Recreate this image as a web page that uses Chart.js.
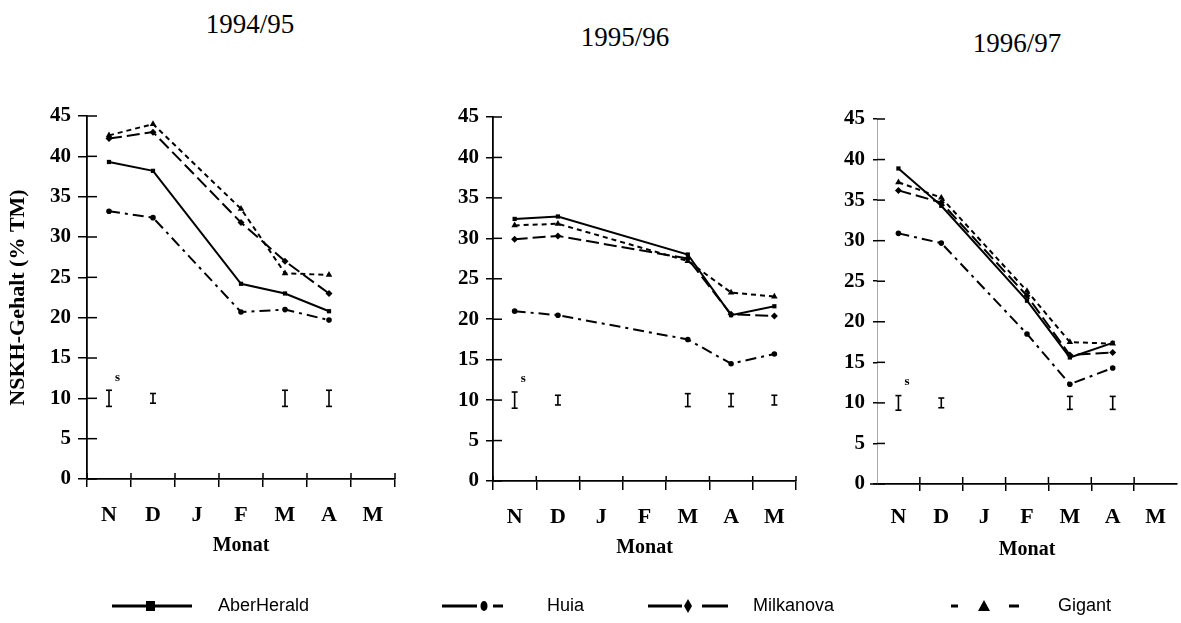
<!DOCTYPE html>
<html><head><meta charset="utf-8">
<script src="https://cdn.jsdelivr.net/npm/chart.js@4.4.1/dist/chart.umd.min.js"></script>
<style>
body{margin:0;background:#fff;width:1181px;height:623px;overflow:hidden;position:relative;}
.t{position:absolute;font:27px 'Liberation Serif';color:#000;transform:translate(-50%,-50%);white-space:nowrap}
canvas{position:absolute}
.lg{position:absolute;font:18px 'Liberation Sans';color:#000;transform:translateY(-50%);white-space:nowrap}
svg{position:absolute;left:0;top:0}
</style></head><body>
<div class="t" id="t0" style="left:250px;top:24px"></div>
<div class="t" id="t1" style="left:625px;top:37px"></div>
<div class="t" id="t2" style="left:1017px;top:43px"></div>
<canvas id="c0" width="410" height="490" style="left:0;top:80px"></canvas>
<canvas id="c1" width="390" height="490" style="left:420px;top:80px"></canvas>
<canvas id="c2" width="371" height="490" style="left:810px;top:80px"></canvas>
<svg width="1181" height="623">
  <line x1="112" y1="606" x2="192" y2="606" stroke="#000" stroke-width="3"/>
  <rect x="146" y="601" width="9" height="10" fill="#000"/>
  <line x1="442" y1="606" x2="477" y2="606" stroke="#000" stroke-width="3"/>
  <ellipse cx="484" cy="606" rx="3.5" ry="5" fill="#000"/>
  <line x1="493" y1="606" x2="503" y2="606" stroke="#000" stroke-width="3"/>
  <line x1="648" y1="606" x2="682" y2="606" stroke="#000" stroke-width="3"/>
  <polygon points="688,599 692,606 688,613 684,606" fill="#000"/>
  <line x1="702" y1="606" x2="728" y2="606" stroke="#000" stroke-width="3"/>
  <line x1="951" y1="606" x2="958" y2="606" stroke="#000" stroke-width="3"/>
  <polygon points="984,600 990,611 978,611" fill="#000"/>
  <line x1="1009" y1="606" x2="1019" y2="606" stroke="#000" stroke-width="3"/>
</svg>
<div class="lg" style="left:218px;top:605px">AberHerald</div>
<div class="lg" style="left:547px;top:605px">Huia</div>
<div class="lg" style="left:753px;top:605px">Milkanova</div>
<div class="lg" style="left:1058px;top:605px">Gigant</div>
<script>
// ---- data ----
const months = ['N','D','J','F','M','A','M'];
const seasons = ['1994/95','1995/96','1996/97'];
const varieties = ['AberHerald','Huia','Milkanova','Gigant'];
const yAxisTitle = 'NSKH-Gehalt (% TM)';
const xAxisTitle = 'Monat';
const lsdLabel = 's';
const lsdCenter = 10;

const aberHerald9495 = [39.3, 38.2, null, 24.2, 23.0, 20.8, null];
const huia9495       = [33.2, 32.4, null, 20.7, 21.0, 19.7, null];
const milkanova9495  = [42.2, 43.0, null, 31.8, 27.0, 23.0, null];
const gigant9495     = [42.6, 44.0, null, 33.5, 25.5, 25.3, null];

const aberHerald9596 = [32.4, 32.7, null, null, 28.0, 20.5, 21.6];
const huia9596       = [21.0, 20.5, null, null, 17.5, 14.5, 15.7];
const milkanova9596  = [29.9, 30.3, null, null, 27.5, 20.6, 20.4];
const gigant9596     = [31.6, 31.8, null, null, 27.2, 23.3, 22.8];

const aberHerald9697 = [38.9, 34.3, null, 22.6, 15.6, 17.4, null];
const huia9697       = [30.9, 29.7, null, 18.5, 12.3, 14.3, null];
const milkanova9697  = [36.2, 34.7, null, 23.2, 15.9, 16.2, null];
const gigant9697     = [37.2, 35.3, null, 23.8, 17.5, 17.3, null];

const lsd9495 = [1.0, 0.6, null, null, 1.0, 1.0, null];
const lsd9596 = [1.0, 0.6, null, null, 0.8, 0.8, 0.6];
const lsd9697 = [0.9, 0.6, null, null, 0.8, 0.8, null];

// ---- styles ----
Chart.defaults.color = '#000';
Chart.defaults.font.family = 'Liberation Serif';
const seriesStyle = [
  {dash: [], point: 'rect', r: 3},
  {dash: [11,5,3,5], point: 'circle', r: 2.8},
  {dash: [13,5], point: 'rectRot', r: 3.5},
  {dash: [5,4], point: 'triangle', r: 3.8}
];

const extras = {
  id: 'extras',
  afterDatasetsDraw(chart, args, o) {
    const {ctx, scales: {x, y}, chartArea} = chart;
    ctx.save();
    ctx.strokeStyle = '#000';
    ctx.lineWidth = 1.5;
    const ln = (a,b,c,d) => { ctx.beginPath(); ctx.moveTo(a,b); ctx.lineTo(c,d); ctx.stroke(); };
    const step = x.getPixelForValue(1) - x.getPixelForValue(0);
    const y0 = y.getPixelForValue(0);
    for (let i = 0; i <= months.length; i++) {
      if (!o.edges && (i === 0 || i === months.length)) continue;
      const px = x.getPixelForValue(0) - step / 2 + i * step;
      ln(px, y0, px, y0 - o.xIn);
    }
    y.ticks.forEach(t => { const py = y.getPixelForValue(t.value); ln(chartArea.left, py, chartArea.left + o.yIn, py); });
    if (o.extendLeft) ln(chartArea.left - o.extendLeft, y0, chartArea.left, y0);
    ctx.lineWidth = 1.6;
    o.lsd.forEach((h, i) => {
      if (h == null) return;
      const px = x.getPixelForValue(i);
      const t = y.getPixelForValue(lsdCenter + h), b = y.getPixelForValue(lsdCenter - h);
      ln(px, t, px, b); ln(px - 3, t, px + 3, t); ln(px - 3, b, px + 3, b);
    });
    ctx.fillStyle = '#000';
    ctx.font = "bold 13px 'Liberation Serif'";
    ctx.textAlign = 'left'; ctx.textBaseline = 'middle';
    ctx.fillText(lsdLabel, x.getPixelForValue(0) + 6, y.getPixelForValue(12.6));
    ctx.restore();
  }
};

function makePanel(id, series, lsd, g) {
  new Chart(document.getElementById(id), {
    type: 'line',
    data: {
      labels: months,
      datasets: series.map((d, i) => ({
        label: varieties[i], data: d, spanGaps: true,
        borderColor: '#000', backgroundColor: '#000', borderWidth: 2,
        borderDash: seriesStyle[i].dash, pointStyle: seriesStyle[i].point,
        pointRadius: seriesStyle[i].r, pointBorderWidth: 0, fill: false, tension: 0
      }))
    },
    options: {
      responsive: false, animation: false,
      layout: {padding: {top: g.padTop, right: g.padRight, left: 0, bottom: 0}},
      plugins: {legend: {display: false}, tooltip: {enabled: false}, extras: {lsd, xIn: g.xIn, yIn: g.yIn, edges: g.edges, extendLeft: g.extendLeft}},
      scales: {
        x: {
          offset: true,
          afterFit: s => { s.height = g.xH; },
          grid: {offset: true, drawOnChartArea: false, tickLength: g.xOut, lineWidth: 1.5,
                 color: c => (g.edges || (c.type === 'tick' && c.index > 0)) ? '#000' : 'rgba(0,0,0,0)'},
          border: {color: '#000', width: 1.8},
          ticks: {padding: g.xLblPad, font: {size: 22, weight: 'bold'}, maxRotation: 0, autoSkip: false},
          title: {display: true, text: xAxisTitle, font: {size: 20, weight: 'bold'}, padding: {top: 0, bottom: g.monatPad}}
        },
        y: {
          min: 0, max: 45,
          afterFit: s => { s.width = g.yW; },
          grid: {drawOnChartArea: false, tickLength: g.yOut, lineWidth: 1.5, color: '#000'},
          border: g.faintY ? {color: '#aaa', width: 1, dash: [2,3]} : {color: '#000', width: 1.8},
          ticks: {stepSize: 5, padding: g.yLblPad, font: {size: 21, weight: 'bold'}},
          title: {display: g.yTitle, text: yAxisTitle, font: {size: 22, weight: 'bold'}, padding: {top: 5, bottom: 0}}
        }
      }
    },
    plugins: [extras]
  });
}

seasons.forEach((s, i) => { document.getElementById('t' + i).textContent = s; });

makePanel('c0', [aberHerald9495, huia9495, milkanova9495, gigant9495], lsd9495,
  {yW: 87, padTop: 36, padRight: 15, xH: 91, yOut: 9, yIn: 10, yLblPad: 7, xOut: 8, xIn: 6, xLblPad: 15, monatPad: 12, yTitle: true, edges: true});
makePanel('c1', [aberHerald9596, huia9596, milkanova9596, gigant9596], lsd9596,
  {yW: 73, padTop: 37, padRight: 14, xH: 89, yOut: 7, yIn: 9, yLblPad: 7, xOut: 9, xIn: 5, xLblPad: 14, monatPad: 10, yTitle: false, edges: true});
makePanel('c2', [aberHerald9697, huia9697, milkanova9697, gigant9697], lsd9697,
  {yW: 67, padTop: 39, padRight: 0, xH: 86, yOut: 4, yIn: 8, yLblPad: 8, xOut: 7, xIn: 7, xLblPad: 13, monatPad: 8, yTitle: false, edges: false, faintY: true, extendLeft: 7});
</script>
</body></html>
